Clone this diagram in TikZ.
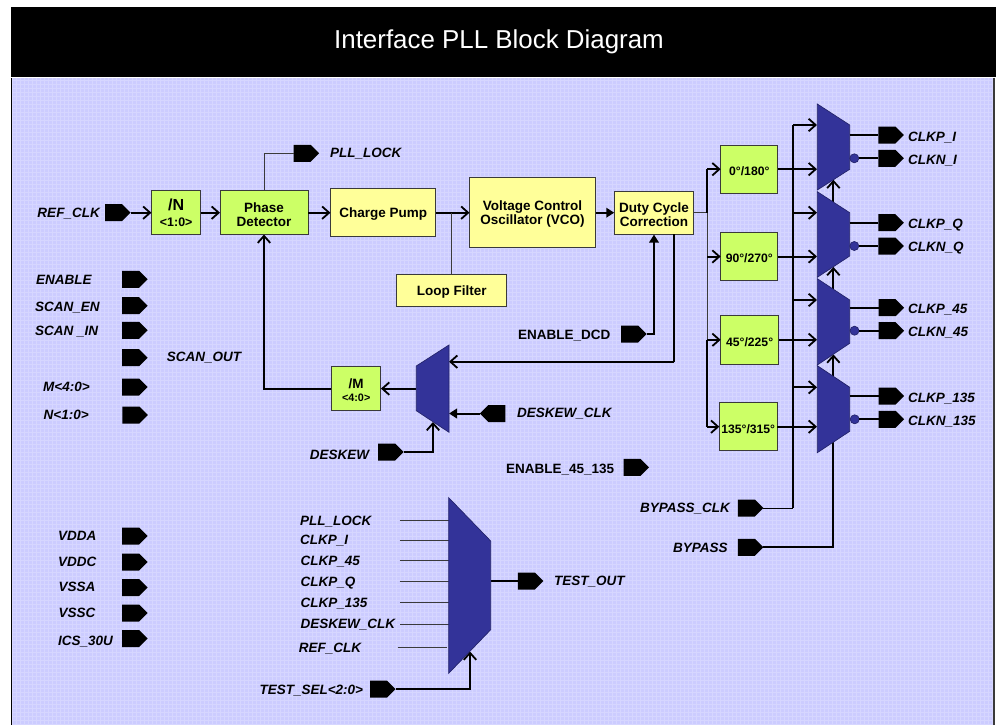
\documentclass[tikz,border=0pt]{standalone}
\usepackage{fontspec}
\setmainfont{Liberation Sans}
\usetikzlibrary{arrows.meta,shapes.symbols}
\definecolor{panelblue}{HTML}{CCCCFF}
\definecolor{panelgrid}{HTML}{D6D6FF}
\definecolor{blockyellow}{HTML}{FFFF99}
\definecolor{blockgreen}{HTML}{CCFF66}
\definecolor{muxblue}{HTML}{333399}
\definecolor{edgegrey}{HTML}{3A3A3A}
\newcommand{\lift}{\rule{0pt}{13pt}}
\begin{document}
\begin{tikzpicture}[x=1pt,y=-1pt,
  wire/.style={line width=2pt,-{Straight Barb[length=7pt,width=12.5pt,line width=1.8pt]}},
  wirefill/.style={line width=2pt,-{Triangle[length=8pt,width=9.5pt]}},
  plainwire/.style={line width=2pt},
  thinwire/.style={line width=1pt,draw=edgegrey},
  block/.style={draw=edgegrey,line width=1pt,inner sep=0pt,outer sep=0pt,align=center,font=\fontsize{13.5pt}{14pt}\bfseries\selectfont},
  yblock/.style={block,fill=blockyellow},
  gblock/.style={block,fill=blockgreen},
  phaseblock/.style={gblock,font=\fontsize{12.2pt}{14pt}\bfseries\selectfont},
  port/.style={signal,signal to=east,signal from=nowhere,fill=black,inner sep=0pt,outer sep=0pt,minimum width=25.5pt,minimum height=17pt,xshift=-4.2pt},
  portl/.style={port,signal to=west,xshift=8.4pt},
  sig/.style={inner sep=0pt,text height=9.7pt,text depth=0pt,font=\fontsize{13.5pt}{14pt}\bfseries\itshape\selectfont},
  sigr/.style={sig,font=\fontsize{13.5pt}{14pt}\bfseries\selectfont},
  mux/.style={fill=muxblue,draw=muxblue!70!black,line width=.7pt},
  bubble/.style={circle,fill=muxblue,draw=muxblue!70!black,line width=.7pt,inner sep=0pt,outer sep=0pt,minimum size=9pt}]
  \useasboundingbox (0,0) rectangle (997,725);
  % panel and title
  \fill[white] (0,0) rectangle (997,725);
  \fill[panelblue] (11.5,78) rectangle (994,725);
  \draw[panelgrid,line width=.5pt,step=4pt] (12,78) grid (994,725);
  \draw[black,line width=1.2pt] (11.5,78) -- (11.5,725);
  \draw[edgegrey,line width=1.2pt] (994,78) -- (994,725);
  \fill[black] (11,7.5) rectangle (996,77.5);
  \node[text=white,inner sep=0pt,font=\fontsize{25.9pt}{28pt}\selectfont] (title) at (499,42) {Interface PLL Block Diagram};

  % main blocks
  \node[gblock,minimum width=49.5pt,minimum height=43.7pt] (divN) at (176.2,212.7) {{\fontsize{16pt}{16pt}\selectfont /N}\\[1.5pt]{\fontsize{12.4pt}{13pt}\selectfont <1:0>}};
  \node[gblock,minimum width=88pt,minimum height=43.7pt] (phase) at (264,212.7) {\lift Phase\\Detector};
  \node[yblock,minimum width=105.5pt,minimum height=48.5pt] (pump) at (383.2,212.7) {\lift Charge Pump};
  \node[yblock,minimum width=126pt,minimum height=70pt] (vco) at (532.5,212.7) {\lift Voltage Control\\Oscillator (VCO)};
  \node[yblock,minimum width=79.7pt,minimum height=43.3pt] (duty) at (654.1,212.7) {\lift Duty Cycle\\Correction};
  \node[yblock,minimum width=110.5pt,minimum height=31.7pt] (loop) at (451.7,290.2) {\lift Loop Filter};
  \node[gblock,minimum width=49.5pt,minimum height=43.6pt] (divM) at (356.2,388.6) {\lift\fontsize{13.5pt}{14pt}\selectfont /M\\[-1pt]{\fontsize{10.8pt}{12pt}\selectfont <4:0>}};
  \node[phaseblock,minimum width=57.3pt,minimum height=48.3pt] (ph0) at (749.3,169.2) {\lift 0°/180°};
  \node[phaseblock,minimum width=57.3pt,minimum height=48pt] (ph90) at (749.3,256.5) {\lift 90°/270°};
  \node[phaseblock,minimum width=57.8pt,minimum height=48.7pt] (ph45) at (749.6,339.8) {\lift 45°/225°};
  \node[phaseblock,minimum width=57.7pt,minimum height=48pt] (ph135) at (748.2,426.7) {\lift 135°/315°};

  % ports on the left
  \node[port] (pRef) at (117.7,212.7) {};
  \node[port] (pLock) at (306.3,153.3) {};
  \node[port] (pEnable) at (134.8,279.3) {};
  \node[port] (pScanEn) at (134.8,305.7) {};
  \node[port] (pScanIn) at (134.8,330.3) {};
  \node[port] (pScanOut) at (134.8,357.7) {};
  \node[port] (pM) at (134.8,387) {};
  \node[port] (pN) at (135,415) {};
  \node[port] (pVdda) at (134.8,536) {};
  \node[port] (pVddc) at (134.8,562) {};
  \node[port] (pVssa) at (134.8,587.5) {};
  \node[port] (pVssc) at (134.8,613) {};
  \node[port] (pIcs) at (134.8,638.5) {};
  \node[portl] (pDeskewClk) at (492.7,413.5) {};
  \node[port] (pDeskew) at (390.7,452) {};
  \node[port] (pDcd) at (633.8,334) {};
  \node[port] (pEn45) at (636.2,467.3) {};
  \node[port] (pBypClk) at (750.5,508) {};
  \node[port] (pByp) at (750.5,547.3) {};
  \node[port] (pTestSel) at (382.7,689) {};
  \node[port] (pTestOut) at (530.5,581) {};

  % ports on the right
  \node[port] (pIp) at (891,135) {};
  \node[port] (pIn) at (891,158.3) {};
  \node[port] (pQp) at (891,222.7) {};
  \node[port] (pQn) at (891,246) {};
  \node[port] (p45p) at (891.3,307.7) {};
  \node[port] (p45n) at (891.3,330.7) {};
  \node[port] (p135p) at (891.3,396) {};
  \node[port] (p135n) at (891.3,419.3) {};

  % signal names
  \node[sig,anchor=west] (lRef) at (37.3,213) {REF\_CLK};
  \node[sig,anchor=west] (lLock) at (330,152.7) {PLL\_LOCK};
  \node[sig,anchor=west] (lEnable) at (36,279.3) {ENABLE};
  \node[sig,anchor=west] (lScanEn) at (35,306.3) {SCAN\_EN};
  \node[sig,anchor=west] (lScanIn) at (35,330.7) {SCAN \_IN};
  \node[sig,anchor=west] (lScanOut) at (166.7,356.7) {SCAN\_OUT};
  \node[sig,anchor=west] (lM) at (43,387) {M<4:0>};
  \node[sig,anchor=west] (lN) at (43.5,415) {N<1:0>};
  \node[sig,anchor=west] (lVdda) at (58,536) {VDDA};
  \node[sig,anchor=west] (lVddc) at (58,561.5) {VDDC};
  \node[sig,anchor=west] (lVssa) at (58.5,587) {VSSA};
  \node[sig,anchor=west] (lVssc) at (58.5,613) {VSSC};
  \node[sig,anchor=west] (lIcs) at (58,641) {ICS\_30U};
  \node[sigr,anchor=west] (lDcd) at (518,334.7) {ENABLE\_DCD};
  \node[sig,anchor=west] (lDeskewClk) at (517,412.7) {DESKEW\_CLK};
  \node[sig,anchor=west] (lDeskew) at (309.7,454.3) {DESKEW};
  \node[sigr,anchor=west] (lEn45) at (506,468.7) {ENABLE\_45\_135};
  \node[sig,anchor=west] (lBypClk) at (640,507.3) {BYPASS\_CLK};
  \node[sig,anchor=west] (lByp) at (673,548) {BYPASS};
  \node[sig,anchor=west] (lIp) at (908,136.7) {CLKP\_I};
  \node[sig,anchor=west] (lIn) at (908,160) {CLKN\_I};
  \node[sig,anchor=west] (lQp) at (908,223.3) {CLKP\_Q};
  \node[sig,anchor=west] (lQn) at (908,246.7) {CLKN\_Q};
  \node[sig,anchor=west] (l45p) at (908,308.7) {CLKP\_45};
  \node[sig,anchor=west] (l45n) at (908,332) {CLKN\_45};
  \node[sig,anchor=west] (l135p) at (908,397.7) {CLKP\_135};
  \node[sig,anchor=west] (l135n) at (908,420.7) {CLKN\_135};
  \node[sig,anchor=west] (lTestOut) at (554,581) {TEST\_OUT};
  \node[sig,anchor=west] (lTestSel) at (259.3,690) {TEST\_SEL<2:0>};
  \node[sig,anchor=west] (lTa) at (300,520.7) {PLL\_LOCK};
  \node[sig,anchor=west] (lTb) at (300,540) {CLKP\_I};
  \node[sig,anchor=west] (lTc) at (300.5,560.7) {CLKP\_45};
  \node[sig,anchor=west] (lTd) at (300.5,581.7) {CLKP\_Q};
  \node[sig,anchor=west] (lTe) at (300.5,603) {CLKP\_135};
  \node[sig,anchor=west] (lTf) at (300.5,623.7) {DESKEW\_CLK};
  \node[sig,anchor=west] (lTg) at (298.7,647.7) {REF\_CLK};

  % pins and bus points
  \coordinate (busA) at (707.3,169.2);
  \coordinate (busJ) at (707.3,212.7);
  \coordinate (busB) at (707.3,256.5);
  \coordinate (busC) at (707.3,339.8);
  \coordinate (busD) at (707.3,426.7);
  \coordinate (clkTop) at (793.3,125);
  \coordinate (clkQ) at (793.3,212.7);
  \coordinate (clk45) at (793.3,300);
  \coordinate (clk135) at (793.3,387.3);
  \coordinate (clkBot) at (793.3,508);
  \coordinate (muxIa) at (817,125);
  \coordinate (muxIb) at (817,169.2);
  \coordinate (muxQa) at (817,212.7);
  \coordinate (muxQb) at (817,256.5);
  \coordinate (mux45a) at (817,300);
  \coordinate (mux45b) at (817,339.8);
  \coordinate (mux135a) at (817,387.3);
  \coordinate (mux135b) at (817,426.7);
  \coordinate (muxIs) at (833.4,179.8);
  \coordinate (muxQt) at (833.4,202.2);
  \coordinate (muxQs) at (833.4,267);
  \coordinate (mux45t) at (833.4,289.4);
  \coordinate (mux45s) at (833.4,354.4);
  \coordinate (mux135t) at (833.4,376.6);
  \coordinate (mux135s) at (833.4,442);
  \coordinate (dutyIn) at (654,234.6);
  \coordinate (dutyOut) at (674,234.4);
  \coordinate (dutyTurn) at (674,361.7);
  \coordinate (muxMa) at (449,361.7);
  \coordinate (muxMb) at (449,413.5);
  \coordinate (muxMo) at (416.3,388.6);
  \coordinate (muxMs) at (433,422);
  \coordinate (muxTs) at (470,651.5);
  \coordinate (muxTo) at (490.7,581);
  \coordinate (tIna) at (399.5,520.7); \coordinate (tOuta) at (448.7,520.7);
  \coordinate (tInb) at (399.5,540.3); \coordinate (tOutb) at (448.7,540.3);
  \coordinate (tInc) at (399.5,560.7); \coordinate (tOutc) at (448.7,560.7);
  \coordinate (tInd) at (399.5,581.7); \coordinate (tOutd) at (448.7,581.7);
  \coordinate (tIne) at (400,602.3); \coordinate (tOute) at (448.7,602.3);
  \coordinate (tInf) at (400,624.7); \coordinate (tOutf) at (448.7,624.7);
  \coordinate (tIng) at (397.5,647.5); \coordinate (tOutg) at (447,647.5);

  % connectors
  \draw[wire] (pRef.east) -- (divN.west);
  \draw[wire] (divN.east) -- (phase.west);
  \draw[wire] (phase.east) -- (pump.west);
  \draw[wire] (pump.east) -- (vco.west);
  \draw[wirefill] (vco.east) -- (duty.west);
  \draw[thinwire] (phase.north) |- (pLock.west);
  \draw[thinwire] (loop.north) -- (loop.north |- pump.east);
  \draw[thinwire] (duty.east) -- (busJ);
  \draw[thinwire] (busJ) -- (busC);
  \draw[plainwire] (busA) -- (busJ);
  \draw[plainwire] (busC) -- (busD);
  \draw[wire] (busA) -- (ph0.west);
  \draw[wire] (busB) -- (ph90.west);
  \draw[wire] (busC) -- (ph45.west);
  \draw[wire] (busD) -- (ph135.west);
  \draw[wire] (ph0.east) -- (muxIb);
  \draw[wire] (ph90.east) -- (muxQb);
  \draw[wire] (ph45.east) -- (mux45b);
  \draw[wire] (ph135.east) -- (mux135b);
  \draw[plainwire] (clkTop) -- (clkBot);
  \draw[thinwire,draw=black] (pBypClk.east) -- (clkBot);
  \draw[wire] (clkTop) -- (muxIa);
  \draw[wire] (clkQ) -- (muxQa);
  \draw[wire] (clk45) -- (mux45a);
  \draw[wire] (clk135) -- (mux135a);
  \draw[plainwire] (pByp.east) -| (mux135s);
  \draw[wire] (mux135t) -- (mux45s);
  \draw[wire] (mux45t) -- (muxQs);
  \draw[wire] (muxQt) -- (muxIs);
  \draw[wirefill] (pDcd.east) -| (dutyIn);
  \draw[plainwire] (dutyOut) -- (dutyTurn);
  \draw[wire] (dutyTurn) -- (muxMa);
  \draw[wire] (muxMo) -- (divM.east);
  \draw[wire] (divM.west) -| (phase.south);
  \draw[wirefill] (pDeskewClk.west) -- (muxMb);
  \draw[wire] (pDeskew.east) -| (muxMs);
  \draw[wire] (pTestSel.east) -| (muxTs);
  \draw[plainwire] (muxTo) -- (pTestOut.west);
  \draw[thinwire] (tIna) -- (tOuta);
  \draw[thinwire] (tInb) -- (tOutb);
  \draw[thinwire] (tInc) -- (tOutc);
  \draw[thinwire] (tInd) -- (tOutd);
  \draw[thinwire] (tIne) -- (tOute);
  \draw[thinwire] (tInf) -- (tOutf);
  \draw[thinwire] (tIng) -- (tOutg);

  % muxes
  \draw[mux] (817.3,104) -- (849.7,125) -- (849.7,169.3) -- (817.3,190) -- cycle;
  \draw[mux] (817.3,191.7) -- (849.7,212.7) -- (849.7,256) -- (817.3,277.3) -- cycle;
  \draw[mux] (817.3,278.7) -- (849.7,300) -- (849.7,343.3) -- (817.3,365) -- cycle;
  \draw[mux] (817.3,365.7) -- (849.7,387.3) -- (849.7,431.3) -- (817.3,452.7) -- cycle;
  \draw[mux] (416.3,366) -- (449,345) -- (449,432.3) -- (416.3,410.7) -- cycle;
  \draw[mux] (448.7,497.7) -- (490.7,541) -- (490.7,629.7) -- (448.7,673.3) -- cycle;

  % mux outputs
  \coordinate (muxIp) at (849.7,135);
  \coordinate (muxQp) at (849.7,222.7);
  \coordinate (mux45p) at (849.7,307.7);
  \coordinate (mux135p) at (849.7,396);
  \node[bubble] (bubI) at (854.3,158.3) {};
  \node[bubble] (bubQ) at (854.3,246) {};
  \node[bubble] (bub45) at (854.5,330.7) {};
  \node[bubble] (bub135) at (854.7,419.3) {};
  \draw[plainwire] (muxIp) -- (pIp.west);
  \draw[plainwire] (muxQp) -- (pQp.west);
  \draw[plainwire] (mux45p) -- (p45p.west);
  \draw[plainwire] (mux135p) -- (p135p.west);
  \draw[plainwire] (bubI.east) -- (pIn.west);
  \draw[plainwire] (bubQ.east) -- (pQn.west);
  \draw[plainwire] (bub45.east) -- (p45n.west);
  \draw[plainwire] (bub135.east) -- (p135n.west);
\end{tikzpicture}
\end{document}
